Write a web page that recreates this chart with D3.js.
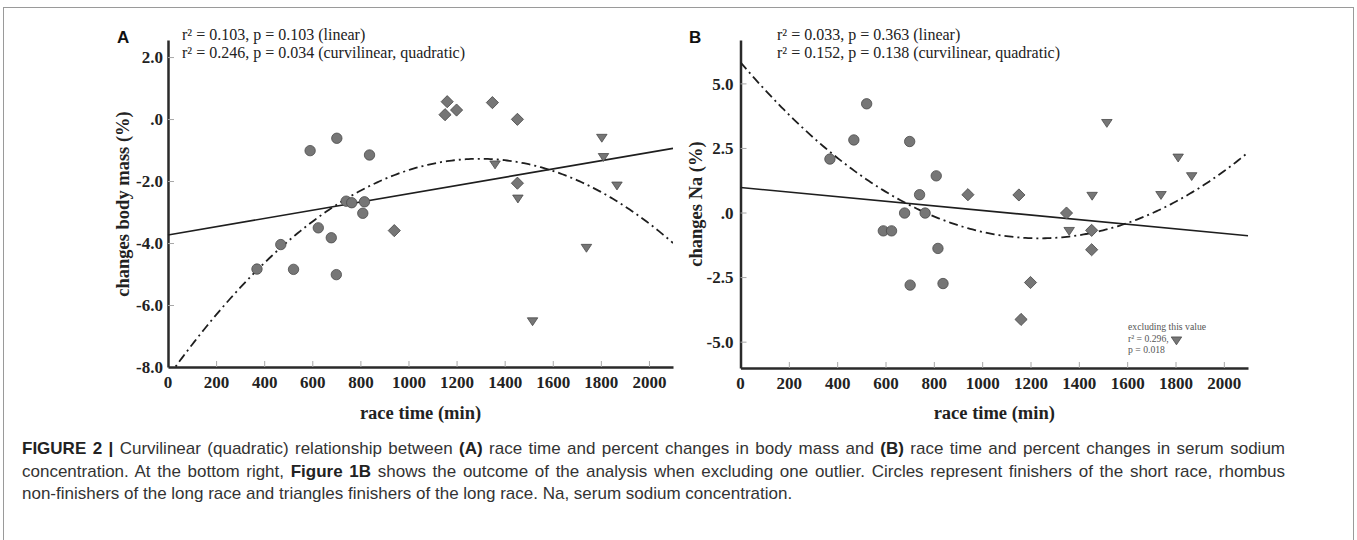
<!DOCTYPE html>
<html>
<head>
<meta charset="utf-8">
<script src="https://cdn.jsdelivr.net/npm/d3@7"></script>
<style>
	body { margin: 0; background: #fff; }
	svg { display: block; }
	.axis path { stroke: #2a2a2a; stroke-width: 2.5px; }
	.axis line { stroke: #a8a8a8; stroke-width: 1px; }
	.axis text { font-family: "Liberation Serif", "Times New Roman", serif; font-weight: bold; font-size: 17px; fill: #222; }
	.title { font-family: "Liberation Serif", "Times New Roman", serif; font-weight: bold; font-size: 18.5px; fill: #222; }
	.stats { font-family: "Liberation Serif", "Times New Roman", serif; font-size: 16px; fill: #222; }
	.note { font-family: "Liberation Serif", "Times New Roman", serif; font-size: 9.7px; fill: #555; }
	.panel-letter { font-family: "Liberation Sans", Arial, sans-serif; font-weight: bold; font-size: 17px; fill: #111; }
	.caption { font-family: "Liberation Sans", Arial, sans-serif; font-size: 17px; fill: #333; }
</style>
</head>
<body>
<div id="chart"></div>
<script>
// race times (min) per group, shared by both panels
const circleTimes   = [370, 469, 522, 591, 625, 679, 700, 702, 741, 764, 810, 817, 838];
const diamondTimes  = [941, 1152, 1161, 1200, 1349, 1453, 1453];
const triangleTimes = [1360, 1455, 1516, 1740, 1804, 1811, 1867];

// A: changes body mass (%)
const massCircles   = [-4.84, -4.05, -4.85, -1.02, -3.51, -3.83, -5.02, -0.62, -2.65, -2.70, -3.04, -2.67, -1.16];
const massDiamonds  = [-3.60, 0.14, 0.56, 0.29, 0.53, -0.01, -2.07];
const massTriangles = [-1.48, -2.58, -6.54, -4.17, -0.62, -1.24, -2.16];

// B: changes Na (%)
const naCircles   = [2.07, 2.81, 4.21, -0.71, -0.71, -0.02, 2.75, -2.81, 0.69, -0.02, 1.42, -1.39, -2.75];
const naDiamonds  = [0.69, 0.68, -4.14, -2.71, -0.02, -0.69, -1.44];
const naTriangles = [-0.73, 0.63, 3.45, 0.66, -4.97, 2.11, 1.39];

// fitted lines, coefficients [c0, c1, c2]
const massLinear = [-3.74, 0.00133];
const massQuad   = [-8.326, 0.010874, -4.197e-6];
const naLinear   = [0.97, -0.00089];
const naQuad     = [5.82, -0.011025, 4.457e-6];

const xTicks = [200, 400, 600, 800, 1000, 1200, 1400, 1600, 1800, 2000];
const xTickLabels = ["0", "200", "400", "600", "800", "1000", "1200", "1400", "1600", "1800", "2000"];
const massTicks = [2, 0, -2, -4, -6, -8];
const massTickLabels = ["2.0", ".0", "-2.0", "-4.0", "-6.0", "-8.0"];
const naTicks = [5, 2.5, 0, -2.5, -5];
const naTickLabels = ["5.0", "2.5", ".0", "-2.5", "-5.0"];

const massStats = ["r² = 0.103, p = 0.103 (linear)", "r² = 0.246, p = 0.034 (curvilinear, quadratic)"];
const naStats   = ["r² = 0.033, p = 0.363 (linear)", "r² = 0.152, p = 0.138 (curvilinear, quadratic)"];
const naNote    = ["excluding this value", "r² = 0.296,", "p = 0.018"];

const W = 1357, H = 540;

var svg = d3.select("#chart").append("svg")
	.attr("width", W)
	.attr("height", H);

// figure frame
svg.append("rect")
	.attr("x", 3.5).attr("y", 7.5)
	.attr("width", 1350).attr("height", 600)
	.attr("fill", "none")
	.attr("stroke", "#9a9a9a");

var triangleDown = {
	draw: function(ctx, size){
		const w = Math.sqrt(size), h = w * .75;
		ctx.moveTo(-w / 2, -h / 2);
		ctx.lineTo(w / 2, -h / 2);
		ctx.lineTo(0, h / 2);
		ctx.closePath();
	}
};

var ScatterPanel = function(svg, cfg){
	const s = this;
	const MARK_FILL = "#767676", MARK_STROKE = "#4a4a4a";

	var g, x, y;

	s.init = function(){
		g = svg.append("g").attr("class", "panel");
		x = d3.scaleLinear().domain([0, 2100]).range([cfg.left, cfg.right]);
		y = d3.scaleLinear().domain(cfg.yDomain).range([cfg.bottom, cfg.top]);
		s.drawAxes();
		s.drawFits();
		s.drawPoints();
		s.drawTexts();
	}

	s.drawAxes = function(){
		var xAxis = d3.axisBottom(x)
			.tickValues(xTicks)
			.tickSizeInner(-6).tickSizeOuter(0)
			.tickPadding(9)
			.tickFormat(function(d){ return xTickLabels[xTicks.indexOf(d) + 1]; });
		var yAxis = d3.axisLeft(y)
			.tickValues(cfg.yTicks)
			.tickSizeInner(-6).tickSizeOuter(0)
			.tickPadding(cfg.labelGap)
			.tickFormat(function(d, i){ return cfg.yTickLabels[i]; });

		var gx = g.append("g")
			.attr("class", "axis")
			.attr("transform", "translate(0," + cfg.bottom + ")")
			.call(xAxis);
		gx.append("text")
			.attr("x", cfg.left).attr("y", 9)
			.attr("dy", "0.71em")
			.attr("text-anchor", "middle")
			.text(xTickLabels[0]);

		var gy = g.append("g")
			.attr("class", "axis")
			.attr("transform", "translate(" + cfg.left + ",0)")
			.call(yAxis);
		gy.selectAll(".tick line").filter(function(d){ return d === cfg.yDomain[0]; }).remove();
		gy.selectAll("text").attr("dy", "0.34em");

		g.append("text")
			.attr("class", "title")
			.attr("x", (cfg.left + cfg.right) / 2)
			.attr("y", 419)
			.attr("text-anchor", "middle")
			.text("race time (min)");
		g.append("text")
			.attr("class", "title")
			.attr("transform", "translate(" + cfg.yTitleX + ",204) rotate(-90)")
			.attr("text-anchor", "middle")
			.attr("dy", "0.35em")
			.text(cfg.yTitle);
	}

	s.drawFits = function(){
		var clipId = "clip-" + cfg.name;
		g.append("clipPath").attr("id", clipId)
			.append("rect")
			.attr("x", cfg.left).attr("y", cfg.top)
			.attr("width", cfg.right - cfg.left)
			.attr("height", cfg.bottom - cfg.top);

		var xs = d3.range(0, 2101, 10);
		var poly = function(c){ return function(t){ return c.reduce(function(a, k, i){ return a + k * Math.pow(t, i); }, 0); }; };
		var line = function(f){ return d3.line().x(function(t){ return x(t); }).y(function(t){ return y(f(t)); }); };

		g.append("path")
			.attr("clip-path", "url(#" + clipId + ")")
			.attr("d", line(poly(cfg.quad))(xs))
			.attr("fill", "none")
			.attr("stroke", "#1e1e1e")
			.attr("stroke-width", 1.8)
			.attr("stroke-dasharray", "9,4,2,4");
		g.append("path")
			.attr("d", line(poly(cfg.linear))([0, 2100]))
			.attr("fill", "none")
			.attr("stroke", "#1e1e1e")
			.attr("stroke-width", 1.6);
	}

	s.drawPoints = function(){
		var groups = [
			{times: circleTimes, vals: cfg.circles, sym: d3.symbol().type(d3.symbolCircle).size(85), rot: 0},
			{times: diamondTimes, vals: cfg.diamonds, sym: d3.symbol().type(d3.symbolSquare).size(74), rot: 45},
			{times: triangleTimes, vals: cfg.triangles, sym: d3.symbol().type(triangleDown).size(110), rot: 0}
		];
		groups.forEach(function(grp){
			g.selectAll(null)
				.data(grp.times.map(function(t, i){ return {t: t, v: grp.vals[i]}; }))
				.enter()
				.append("path")
				.attr("d", grp.sym())
				.attr("transform", function(d){ return "translate(" + x(d.t) + "," + y(d.v) + ") rotate(" + grp.rot + ")"; })
				.attr("fill", MARK_FILL)
				.attr("stroke", MARK_STROKE)
				.attr("stroke-width", .8);
		});
	}

	s.drawTexts = function(){
		g.append("text")
			.attr("class", "panel-letter")
			.attr("x", cfg.letterX).attr("y", 43)
			.text(cfg.letter);
		g.selectAll(null)
			.data(cfg.stats)
			.enter()
			.append("text")
			.attr("class", "stats")
			.attr("x", cfg.statsX)
			.attr("y", function(d, i){ return 40 + i * 18; })
			.text(function(d){ return d; });
		if (cfg.note) {
			g.selectAll(null)
				.data(cfg.note)
				.enter()
				.append("text")
				.attr("class", "note")
				.attr("x", 1128)
				.attr("y", function(d, i){ return 330 + i * 11.5; })
				.text(function(d){ return d; });
		}
	}
}

new ScatterPanel(svg, {
	name: "a", letter: "A", letterX: 117, statsX: 182,
	left: 168, right: 673, top: 40, bottom: 367,
	yDomain: [-8, 2.55], yTicks: massTicks, yTickLabels: massTickLabels, labelGap: 5,
	yTitle: "changes body mass (%)", yTitleX: 123,
	circles: massCircles, diamonds: massDiamonds, triangles: massTriangles,
	linear: massLinear, quad: massQuad, stats: massStats
}).init();

new ScatterPanel(svg, {
	name: "b", letter: "B", letterX: 689, statsX: 777,
	left: 740.5, right: 1248, top: 40, bottom: 368,
	yDomain: [-6.02, 6.68], yTicks: naTicks, yTickLabels: naTickLabels, labelGap: 7,
	yTitle: "changes Na (%)", yTitleX: 696,
	circles: naCircles, diamonds: naDiamonds, triangles: naTriangles,
	linear: naLinear, quad: naQuad, stats: naStats, note: naNote
}).init();

// caption, justified except for the last line
var captionLines = [
	[["FIGURE 2 | ", true], ["Curvilinear (quadratic) relationship between ", false], ["(A)", true], [" race time and percent changes in body mass and ", false], ["(B)", true], [" race time and percent changes in serum sodium", false]],
	[["concentration. At the bottom right, ", false], ["Figure 1B", true], [" shows the outcome of the analysis when excluding one outlier. Circles represent finishers of the short race, rhombus", false]],
	[["non-finishers of the long race and triangles finishers of the long race. Na, serum sodium concentration.", false]]
];
const CAPTION_WIDTH = 1263;

captionLines.forEach(function(parts, i){
	var t = svg.append("text")
		.attr("class", "caption")
		.attr("x", 22)
		.attr("y", 454 + i * 22.5);
	parts.forEach(function(p){
		t.append("tspan")
			.attr("font-weight", p[1] ? "bold" : null)
			.attr("fill", p[1] ? "#222" : null)
			.text(p[0]);
	});
	if (i < captionLines.length - 1) {
		var full = parts.map(function(p){ return p[0]; }).join(""),
			spaces = full.split(" ").length - 1,
			len = t.node().getComputedTextLength();
		if (len < CAPTION_WIDTH) t.style("word-spacing", ((CAPTION_WIDTH - len) / spaces) + "px");
	}
});
</script>
</body>
</html>
